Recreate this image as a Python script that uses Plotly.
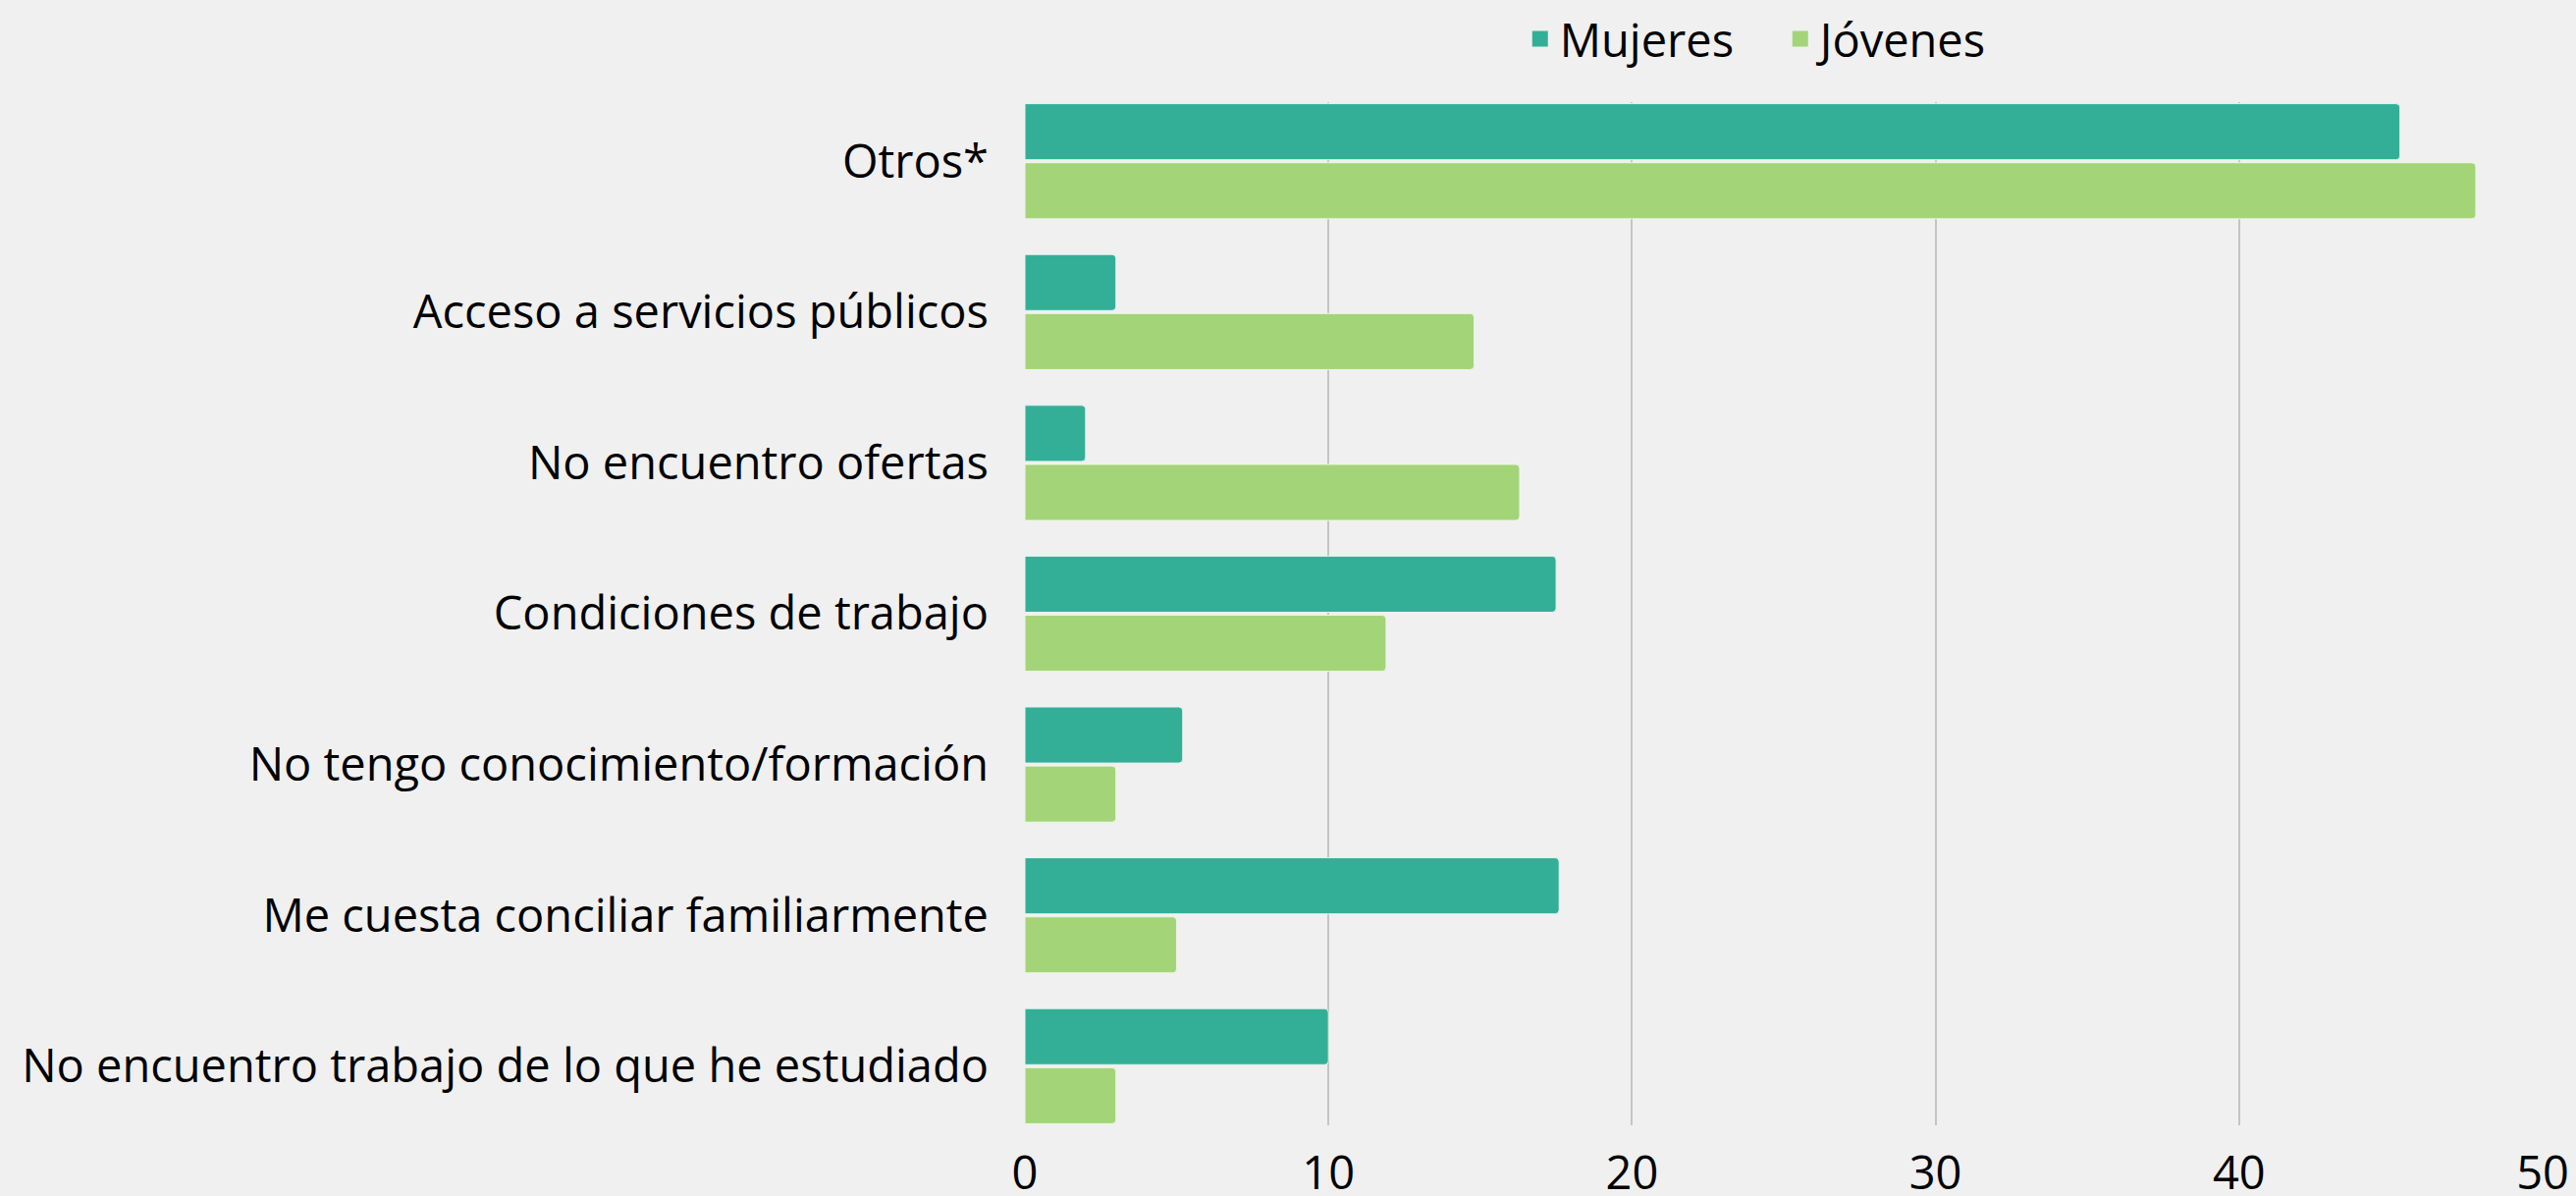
import plotly.graph_objects as go

categories = [
    "Otros*",
    "Acceso a servicios públicos",
    "No encuentro ofertas",
    "Condiciones de trabajo",
    "No tengo conocimiento/formación",
    "Me cuesta conciliar familiarmente",
    "No encuentro trabajo de lo que he estudiado",
]
mujeres = [45.3, 3.0, 2.0, 17.5, 5.2, 17.6, 10.0]
jovenes = [47.8, 14.8, 16.3, 11.9, 3.0, 5.0, 3.0]
x_ticks = [0, 10, 20, 30, 40, 50]

series = [("Mujeres", mujeres, "#33af97", "#e6f4ef"),
          ("Jóvenes", jovenes, "#a3d578", "#eef7e6")]

FONT = "Open Sans"
FS = 47
BG = "#f0f0f0"

fig = go.Figure()
for name, values, color, edge in series:
    fig.add_trace(go.Bar(
        name=name, y=categories, x=values, orientation="h",
        marker=dict(color=color, cornerradius=4, line=dict(color=edge, width=1)),
        showlegend=False,
    ))
# legend keys drawn as larger squares
for name, values, color, edge in series:
    fig.add_trace(go.Scatter(
        name=name, x=[None], y=[None], mode="markers",
        marker=dict(symbol="square", size=18, color=color),
        showlegend=True,
    ))

fig.update_layout(
    width=2624, height=1218,
    paper_bgcolor=BG, plot_bgcolor=BG,
    margin=dict(l=1044, r=34, t=104, b=72, autoexpand=False),
    barmode="group", bargap=0.217, bargroupgap=0.05,
    font=dict(family=FONT, size=FS, color="#000000"),
    showlegend=True,
    legend=dict(
        orientation="h", x=0.3265, xanchor="left", y=1.0614, yanchor="middle",
        font=dict(family=FONT, size=FS, color="#000000"),
        bgcolor="rgba(0,0,0,0)", itemwidth=30, traceorder="normal",
        entrywidth=220, entrywidthmode="pixels",
    ),
    xaxis=dict(
        range=[0, 50], tickvals=x_ticks, ticktext=[str(v) for v in x_ticks],
        showgrid=True, gridcolor="#c4c4c4", gridwidth=2,
        zeroline=False, showline=False, ticks="", ticklabelstandoff=17,
        automargin=False,
        tickfont=dict(family=FONT, size=FS, color="#000000"),
    ),
    yaxis=dict(
        type="category", range=[6.392, -0.392], autorange=False,
        showgrid=False, zeroline=False, showline=False, ticks="",
        ticklabelstandoff=36, automargin=False,
        tickfont=dict(family=FONT, size=FS, color="#000000"),
    ),
)

fig.write_html("out.html")
